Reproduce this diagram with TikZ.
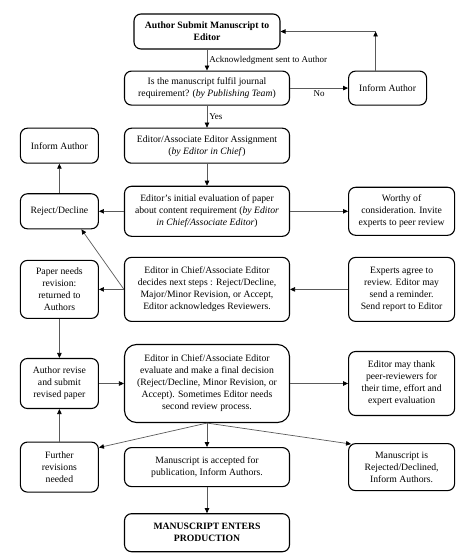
\documentclass[tikz,border=0pt]{standalone}
\usepackage{fontspec}
\setmainfont{Liberation Serif}
\usepackage{xcolor}
\usetikzlibrary{arrows.meta,positioning}
\definecolor{linegray}{HTML}{5A5A5A}

\begin{document}
\begin{tikzpicture}[
  font=\fontsize{9.7}{12}\selectfont,
  box/.style={draw=black,line width=1.1pt,rounded corners=7pt,align=center,inner sep=2pt},
  mid/.style={box,minimum width=165pt},
  side/.style={box,minimum width=78pt},
  wide/.style={box,minimum width=106pt},
  arr/.style={-{Triangle[length=5pt,width=4.5pt,color=black]},line width=0.7pt,draw=linegray},
  lbl/.style={font=\fontsize{9}{11}\selectfont,inner sep=2pt}
]
\useasboundingbox (0,0) rectangle (473pt,-553pt);
\node[mid,minimum width=146pt,minimum height=35pt] (submit) at (207pt,-31.5pt)
  {\textbf{Author Submit Manuscript to}\\\textbf{Editor}};
\node[mid,minimum height=34pt,below=21pt of submit] (check)
  {Is the manuscript fulfil journal\\requirement? (\textit{by Publishing Team})};
\node[side,minimum height=34pt,right=58pt of check] (informR) {Inform Author};
\node[mid,minimum height=35pt,below=22pt of check] (assign)
  {Editor/Associate Editor Assignment\\(\textit{by Editor in Chief})};
\node[side,minimum height=35pt,left=25pt of assign] (informL) {Inform Author};
\node[mid,minimum height=50pt,below=22pt of assign] (initial)
  {Editor's initial evaluation of paper\\about content requirement (\textit{by Editor}\\\textit{in Chief/Associate Editor})};
\node[side,minimum height=35pt,left=25pt of initial] (reject) {Reject/Decline};
\node[wide,minimum height=48pt,right=58pt of initial] (worthy)
  {Worthy of\\consideration. Invite\\experts to peer review};
\node[mid,minimum height=64pt,below=20pt of initial] (decide)
  {Editor in Chief/Associate Editor\\decides next steps : Reject/Decline,\\Major/Minor Revision, or Accept,\\Editor acknowledges Reviewers.};
\node[side,minimum height=58pt,left=25pt of decide] (revision)
  {Paper needs\\revision:\\returned to\\Authors};
\node[wide,minimum height=64pt,right=58pt of decide] (experts)
  {Experts agree to\\review. Editor may\\send a reminder.\\Send report to Editor};
\node[mid,minimum height=78pt,rounded corners=12pt,below=22pt of decide] (final)
  {Editor in Chief/Associate Editor\\evaluate and make a final decision\\(Reject/Decline, Minor Revision, or\\Accept). Sometimes Editor needs\\second review process.};
\node[side,minimum height=50pt,left=25pt of final] (revise)
  {Author revise\\and submit\\revised paper};
\node[wide,minimum height=64pt,right=58pt of final] (thank)
  {Editor may thank\\peer-reviewers for\\their time, effort and\\expert evaluation};
\node[mid,minimum height=39pt,below=24pt of final] (accept)
  {Manuscript is accepted for\\publication, Inform Authors.};
\node[side,minimum height=50pt,left=25pt of accept] (further)
  {Further\\revisions\\needed};
\node[wide,minimum height=47pt,right=58pt of accept] (declined)
  {Manuscript is\\Rejected/Declined,\\Inform Authors.};
\node[mid,minimum height=38pt,below=26pt of accept] (prod)
  {\textbf{MANUSCRIPT ENTERS}\\\textbf{PRODUCTION}};
% connectors
\coordinate (up) at ([xshift=-12pt]informR.north);
\coordinate (turn) at (up |- submit.east);
\draw[arr] (submit) -- node[lbl,right]{Acknowledgment sent to Author} (check);
\draw[arr] (check) -- node[lbl,below]{No} (informR);
\draw[arr] (up) -- (turn);
\draw[arr] (turn) -- (submit.east);
\draw[arr] (check) -- node[lbl,right]{Yes} (assign);
\draw[arr] (assign) -- (initial);
\draw[arr] (initial) -- (reject);
\draw[arr] (initial) -- (worthy);
\draw[arr] (reject) -- (informL);
\draw[arr] (decide.west) -- ([xshift=22pt]reject.south);
\draw[arr] (decide) -- (revision);
\draw[arr] (experts) -- (decide);
\draw[arr] (revision) -- (revise);
\draw[arr] (revise) -- (final);
\draw[arr] (final) -- (thank);
\draw[arr] (further) -- (revise);
\draw[arr] (final.south) -- ([yshift=-6pt]further.north east);
\draw[arr] (final) -- (accept);
\draw[arr] (final.south) -- ([xshift=3pt,yshift=-1pt]declined.north west);
\draw[arr] (accept) -- (prod);
\end{tikzpicture}
\end{document}
